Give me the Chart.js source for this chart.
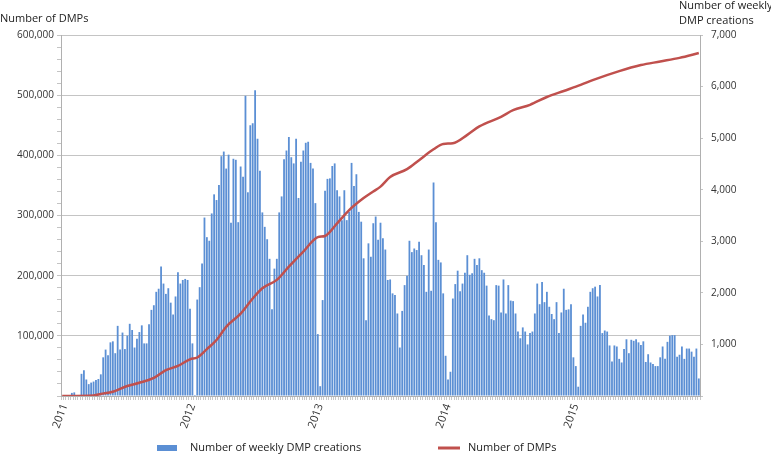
<!DOCTYPE html>
<html lang="en">

<head>
  <meta charset="UTF-8" />
  <title>DMP creations</title>
  <script src="https://cdn.jsdelivr.net/npm/chart.js"></script>
  <style>
    body { margin: 0; background: #fff; }
  </style>
</head>

<body>
  <canvas id="grafico" width="771" height="455"></canvas>

  <script>
    // weekly DMP creations (right axis), one value per week
    const weekly = [
      0, 0, 10, 0, 60, 70, 0, 10,
      430, 500, 320, 230, 260, 280, 310, 330, 420, 750,
      900, 790, 1040, 1060, 830, 1360, 900, 1230, 910, 1170,
      1400, 1280, 940, 1110, 1240, 1370, 1020, 1020, 1390, 1670,
      1760, 2020, 2080, 2510, 2180, 1980, 2090, 1810, 1580, 1930,
      2400, 2180, 2250, 2270, 2250, 1690, 1020, 20, 1870, 2110,
      2570, 3460, 3080, 3010, 3540, 3910, 3800, 4090, 4650, 4740,
      4410, 4680, 3360, 4600, 4580, 3370, 4450, 4250, 5820, 3950,
      5250, 5290, 5930, 4990, 4370, 3560, 3280, 3040, 2660, 1680,
      2470, 2660, 3560, 3870, 4590, 4760, 5020, 4630, 4510, 4990,
      3840, 4540, 4760, 4910, 4930, 4520, 4410, 3740, 1200, 190,
      1860, 3980, 4210, 4220, 4460, 4510, 3990, 3870, 3410, 3990,
      3410, 3570, 4520, 4070, 4300, 3570, 3380, 2670, 1470, 2960,
      2700, 3350, 3480, 3030, 3360, 3060, 2840, 2250, 2260, 1990,
      1960, 1600, 940, 1650, 2150, 2330, 3010, 2790, 2860, 2830,
      2990, 2730, 2540, 2020, 2840, 2040, 4140, 3370, 2640, 2590,
      1990, 780, 320, 470, 1890, 2170, 2430, 2030, 2180, 2390,
      2730, 2350, 2380, 2660, 2540, 2670, 2440, 2390, 2140, 1560,
      1490, 1470, 2150, 2140, 1620, 2260, 1600, 2150, 1850, 1840,
      1600, 1250, 1120, 1330, 1250, 1000, 1220, 1250, 1600, 2180,
      1780, 2210, 1820, 2020, 1730, 1590, 1490, 1820, 1220, 1620,
      2080, 1670, 1680, 1780, 750, 580, 180, 1360, 1580, 1420,
      1730, 2020, 2090, 2120, 1930, 2150, 1220, 1270, 1250, 980,
      670, 980, 960, 720, 650, 910, 1100, 830, 1090, 1070,
      1100, 1040, 990, 1060, 660, 810, 650, 620, 580, 580,
      750, 960, 720, 1050, 1170, 1180, 1180, 760, 800, 960,
      720, 920, 920, 860, 760, 920, 340
    ];

    // cumulative number of DMPs (left axis), read at some weeks
    const lineWeek = [0, 13, 16, 21, 27, 32, 38, 43, 48, 53, 56, 60, 64, 68, 74, 79, 83, 89, 94, 100,
      106, 109, 114, 119, 125, 129, 132, 136, 143, 148, 154, 158, 162, 168, 173, 182, 187, 194, 201, 208,
      215, 220, 231, 240, 248, 256, 264];
    const lineValue = [0, 1000, 3300, 7000, 16600, 22000, 30000, 43000, 50000, 61000, 64000, 78000, 93000,
      115000, 137000, 162000, 179000, 193000, 215000, 240000, 264000, 266000, 287000, 309000, 329000,
      340000, 348000, 364000, 377000, 392000, 410000, 419000, 420000, 434000, 448000, 464000, 475000,
      484000, 497000, 507000, 517000, 525000, 540000, 550000, 556000, 562000, 570000];

    // x axis tick labels: first week of each year
    const years = ['2011', '2012', '2013', '2014', '2015'];
    const yearStartWeek = [1, 54, 107, 160, 213];

    const weeks = weekly.map((_, i) => 'week ' + i);

    const barName = 'Number of weekly DMP creations';
    const lineName = 'Number of DMPs';
    const barColor = '#5b8fd4';
    const lineColor = '#c0504d';
    const fuente = '"Open Sans", sans-serif';

    const textos = {
      id: 'textos',
      afterDraw(chart) {
        const ctx = chart.ctx;
        ctx.save();
        ctx.font = '11px ' + fuente;
        ctx.fillStyle = '#222';
        ctx.textBaseline = 'middle';
        ctx.textAlign = 'left';
        ctx.fillText('Number of DMPs', 0, 19);
        ctx.fillText('Number of weekly', 679, 6);
        ctx.fillText('DMP creations', 679, 21);
        // legend
        ctx.fillStyle = barColor;
        ctx.fillRect(157, 445, 20, 6);
        ctx.fillStyle = '#222';
        ctx.fillText(barName, 190, 448);
        ctx.strokeStyle = lineColor;
        ctx.lineWidth = 3;
        ctx.beginPath();
        ctx.moveTo(438, 448);
        ctx.lineTo(460, 448);
        ctx.stroke();
        ctx.fillText(lineName, 468, 448);
        ctx.restore();
      }
    };

    new Chart(document.getElementById('grafico'), {
      type: 'bar',
      data: {
        labels: weeks,
        datasets: [{
          type: 'line',
          label: lineName,
          data: lineWeek.map((w, k) => ({ x: weeks[w], y: lineValue[k] })),
          borderColor: lineColor,
          borderWidth: 2.5,
          pointRadius: 0,
          cubicInterpolationMode: 'monotone',
          yAxisID: 'y',
          order: 1
        }, {
          label: barName,
          data: weekly,
          backgroundColor: barColor,
          barPercentage: 0.75,
          categoryPercentage: 1,
          yAxisID: 'y1',
          order: 2
        }]
      },
      options: {
        responsive: false,
        animation: false,
        layout: { padding: { top: 35, bottom: 23, left: 0, right: 0 } },
        plugins: { legend: { display: false }, tooltip: { enabled: false } },
        scales: {
          x: {
            afterFit: s => { s.height = 36; },
            grid: { drawOnChartArea: false, color: '#c8c8c8', tickLength: 4 },
            border: { color: '#b0b0b0' },
            ticks: {
              autoSkip: false,
              maxRotation: 70,
              minRotation: 70,
              padding: 2,
              color: '#333',
              font: { family: fuente, size: 11 },
              callback: (v, i) => {
                const k = yearStartWeek.indexOf(i);
                return k >= 0 ? years[k] : '';
              }
            }
          },
          y: {
            position: 'left',
            min: 0,
            max: 600000,
            afterFit: s => { s.width = 61; },
            grid: {
              color: c => (c.tick.value % 100000 === 0 && c.tick.value > 0) ? '#c4c4c4' : 'rgba(0,0,0,0)',
              tickColor: '#c4c4c4',
              tickLength: 4
            },
            border: { color: '#b0b0b0' },
            ticks: {
              stepSize: 20000,
              autoSkip: false,
              padding: 3,
              color: '#333',
              font: { family: fuente, size: 10 },
              callback: v => (v % 100000 === 0 && v > 0) ? v.toLocaleString('en-US') : ''
            }
          },
          y1: {
            position: 'right',
            min: 0,
            max: 7000,
            afterFit: s => { s.width = 71; },
            grid: { drawOnChartArea: false, color: '#c4c4c4', tickLength: 3 },
            border: { color: '#b0b0b0' },
            ticks: {
              stepSize: 1000,
              padding: 8,
              color: '#333',
              font: { family: fuente, size: 10 },
              callback: v => v > 0 ? v.toLocaleString('en-US') : ''
            }
          }
        }
      },
      plugins: [textos]
    });
  </script>
</body>

</html>
